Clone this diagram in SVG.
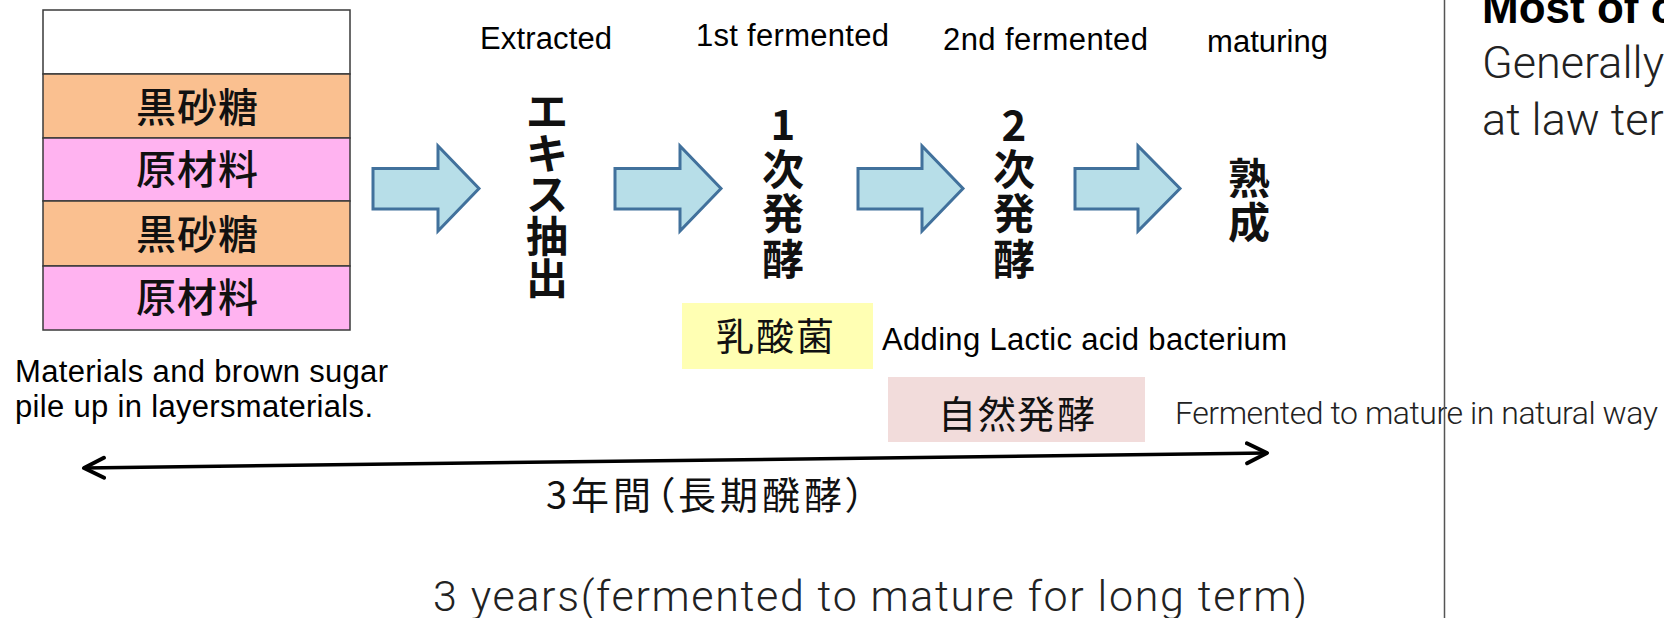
<svg xmlns="http://www.w3.org/2000/svg" width="1664" height="618" viewBox="0 0 1664 618">
<style>
.en{font-family:"Liberation Sans",Arial,sans-serif;font-size:31px;fill:#000}
.jp{font-family:"Noto Sans CJK JP",sans-serif;fill:#111}
.tb{font-size:40px;font-weight:500;text-anchor:middle}
.vt{font-size:42px;font-weight:bold;text-anchor:middle}
.lt{font-family:Roboto,"Noto Sans",sans-serif;font-weight:300;fill:#222}
.blk{fill:#B7DEE8;stroke:#41719C;stroke-width:3;stroke-linejoin:miter}
.cell{stroke:#3a3a3a;stroke-width:1.5}
</style>
<defs>
<marker id="oh" markerUnits="userSpaceOnUse" markerWidth="26" markerHeight="26" refX="22" refY="12" orient="auto-start-reverse">
<path d="M2,2 L22,12 L2,22" fill="none" stroke="#000" stroke-width="4" stroke-linecap="round" stroke-linejoin="round"/>
</marker>
</defs>
<rect width="1664" height="618" fill="#fff"/>

<g id="layers">
<rect class="cell" x="43" y="10" width="307" height="64" fill="#fff"/>
<rect class="cell" x="43" y="74" width="307" height="64" fill="#FAC090"/>
<rect class="cell" x="43" y="138" width="307" height="63" fill="#FFB3F0"/>
<rect class="cell" x="43" y="201" width="307" height="65" fill="#FAC090"/>
<rect class="cell" x="43" y="266" width="307" height="64" fill="#FFB3F0"/>
<text class="jp tb" x="156 197 238" y="122">黒砂糖</text>
<text class="jp tb" x="156 197 238" y="184">原材料</text>
<text class="jp tb" x="156 197 238" y="249">黒砂糖</text>
<text class="jp tb" x="156 197 238" y="312">原材料</text>
</g>

<g id="caption-materials">
<text class="en" x="15" y="381.5" textLength="373">Materials and brown sugar</text>
<text class="en" x="15" y="416.5" textLength="358">pile up in layersmaterials.</text>
</g>

<g id="step-extract">
<text class="en" x="480" y="49" textLength="132">Extracted</text>
<text class="jp vt" x="547" y="127">エ</text>
<text class="jp vt" x="547" y="169">キ</text>
<text class="jp vt" x="547" y="210">ス</text>
<text class="jp vt" x="547" y="252">抽</text>
<text class="jp vt" x="547" y="294">出</text>
</g>

<g id="step-first">
<text class="en" x="696" y="46" textLength="193">1st fermented</text>
<text class="jp vt" x="783" y="140">1</text>
<text class="jp vt" x="783" y="185">次</text>
<text class="jp vt" x="783" y="229">発</text>
<text class="jp vt" x="783" y="275">酵</text>
</g>

<g id="step-second">
<text class="en" x="943" y="50" textLength="205">2nd fermented</text>
<text class="jp vt" x="1014" y="141">2</text>
<text class="jp vt" x="1014" y="185">次</text>
<text class="jp vt" x="1014" y="229">発</text>
<text class="jp vt" x="1014" y="275">酵</text>
</g>

<g id="step-mature">
<text class="en" x="1207" y="51.5" textLength="121">maturing</text>
<text class="jp vt" x="1249" y="194">熟</text>
<text class="jp vt" x="1249" y="238">成</text>
</g>

<g id="lactic">
<rect x="682" y="303" width="191" height="66" fill="#FFFFB3"/>
<text class="jp" font-size="38" text-anchor="middle" x="735 775 815" y="350">乳酸菌</text>
<text class="en" x="882" y="350" textLength="405">Adding Lactic acid bacterium</text>
</g>

<g id="natural">
<rect x="888" y="377" width="257" height="65" fill="#F2DCDB"/>
<text class="jp" font-size="38" text-anchor="middle" x="957 997 1036 1076" y="428">自然発酵</text>
<text class="lt" font-size="32" x="1175" y="423.5" textLength="483">Fermented to mature in natural way</text>
</g>

<g id="connectors">
<path class="blk" d="M373,168.5 H438 V146 L479,188.5 L438,231 V209 H373 Z"/>
<path class="blk" d="M615,168.5 H680 V146 L721,188.5 L680,231 V209 H615 Z"/>
<path class="blk" d="M858,168.5 H922 V146 L963,188.5 L922,231 V209 H858 Z"/>
<path class="blk" d="M1075,168.5 H1138 V146 L1180,188.5 L1138,231 V209 H1075 Z"/>
<path d="M84,468 L1267,453" fill="none" stroke="#000" stroke-width="3.5" marker-start="url(#oh)" marker-end="url(#oh)"/>
</g>

<g id="duration">
<text class="jp" font-size="38" x="546" y="509" textLength="319" style="font-feature-settings:'palt'">3年間（長期醗酵）</text>
<text class="lt" font-size="43" x="433" y="611" textLength="874">3 years(fermented to mature for long term)</text>
</g>

<g id="side-panel">
<line x1="1444.5" y1="0" x2="1444.5" y2="618" stroke="#555" stroke-width="1.5"/>
<text x="1482" y="23" font-family="'Liberation Sans',Arial,sans-serif" font-weight="bold" font-size="44" fill="#000">Most of c</text>
<text class="lt" font-size="45" x="1482" y="78">Generally</text>
<text class="lt" font-size="45" x="1482" y="135">at law ter</text>
</g>
</svg>
